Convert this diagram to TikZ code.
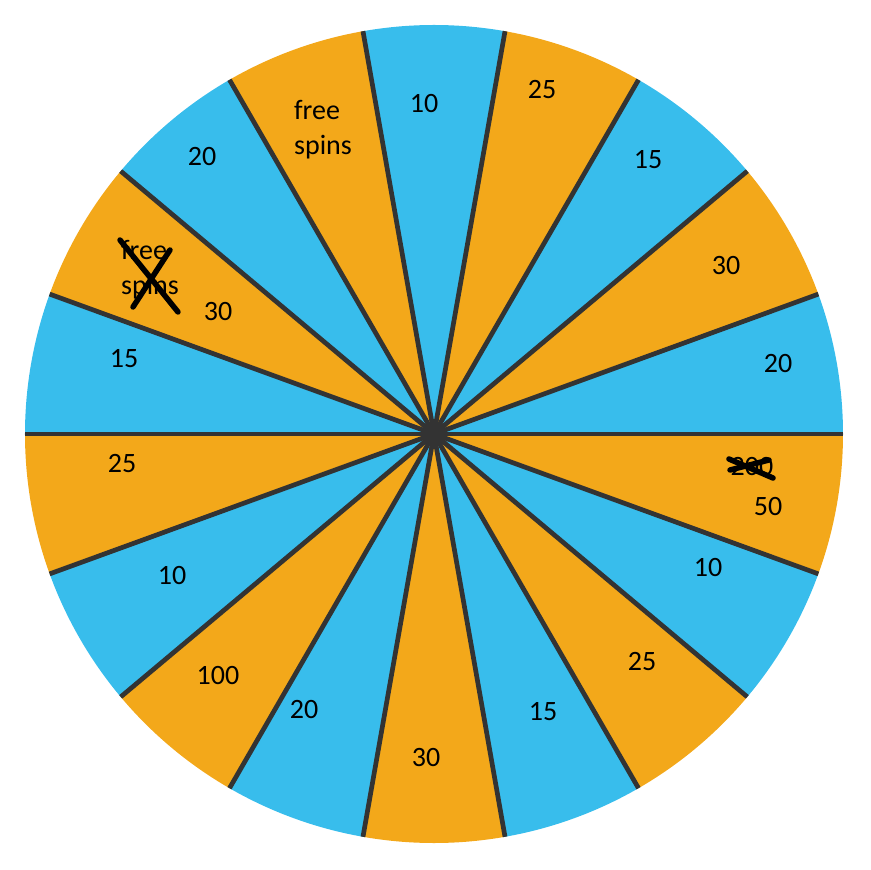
\documentclass[tikz,border=0pt]{standalone}
\usepackage{fontspec}
\setmainfont{Carlito}
\usepackage{xcolor}
\definecolor{wheelblue}{RGB}{56,189,236}
\definecolor{wheelorange}{RGB}{243,168,26}
\definecolor{spokegray}{RGB}{51,51,51}
\usetikzlibrary{positioning}

\begin{document}
\begin{tikzpicture}[x=1pt, y=1pt,
  prize/.style={inner sep=0pt, font=\fontsize{28}{35}\selectfont, text=black, align=left},
  spoke/.style={draw=spokegray, line width=4.7pt},
  strike/.style={draw=black, line width=5.5pt, line cap=round}
]
\useasboundingbox (-434,-436) rectangle (436,434);

% Wedges (20 degrees each, blue/orange alternating)
\foreach \i in {0,...,17} {
  \pgfmathsetmacro{\a}{20*\i}
  \pgfmathsetmacro{\b}{20*\i+20}
  \ifodd\i \def\wc{wheelorange}\else \def\wc{wheelblue}\fi
  \fill[\wc] (0,0) -- (\a:409pt) arc[start angle=\a, end angle=\b, radius=409pt] -- cycle;
}

% Spokes
\foreach \a in {0,20,...,340}
  \draw[spoke] (0,0) -- (\a:409pt);

% Hub
\node[circle, fill=spokegray, minimum size=25pt, inner sep=0pt] (hub) at (0,0) {};

% Prizes, clockwise from the top
\node[prize] (p10top)   at (-10,330)   {10};
\node[prize] (p25a)     at (108,344)   {25};
\node[prize] (p15a)     at (214,274)   {15};
\node[prize] (p30a)     at (292,168)   {30};
\node[prize] (p20a)     at (344,70)    {20};
\node[prize] (p200)     at (318,-33)   {200};
\node[prize] (p50)      at (334,-73)   {50};
\node[prize] (p10b)     at (274,-134)  {10};
\node[prize] (p25b)     at (208,-228)  {25};
\node[prize] (p15b)     at (109,-278)  {15};
\node[prize] (p30bot)   at (-8,-324)   {30};
\node[prize] (p20b)     at (-130,-276) {20};
\node[prize] (p100)     at (-216,-242) {100};
\node[prize] (p10c)     at (-262,-142) {10};
\node[prize] (p25c)     at (-312,-30)  {25};
\node[prize] (p15c)     at (-310,75)   {15};
\node[prize] (pfreeold) at (-284,164)  {free\\spins};
\node[prize] (p30c)     at (-216,122)  {30};
\node[prize] (p20c)     at (-232,277)  {20};
\node[prize] (pfree)    at (-111,304)  {free\\spins};

% Crossed-out entries
\draw[strike] (-314,194) -- (-256,122);
\draw[strike] (-301,127) -- (-264,184);
\draw[strike] (295,-25) -- (339,-44);
\draw[strike] (296,-36) -- (335,-26);
\end{tikzpicture}
\end{document}
